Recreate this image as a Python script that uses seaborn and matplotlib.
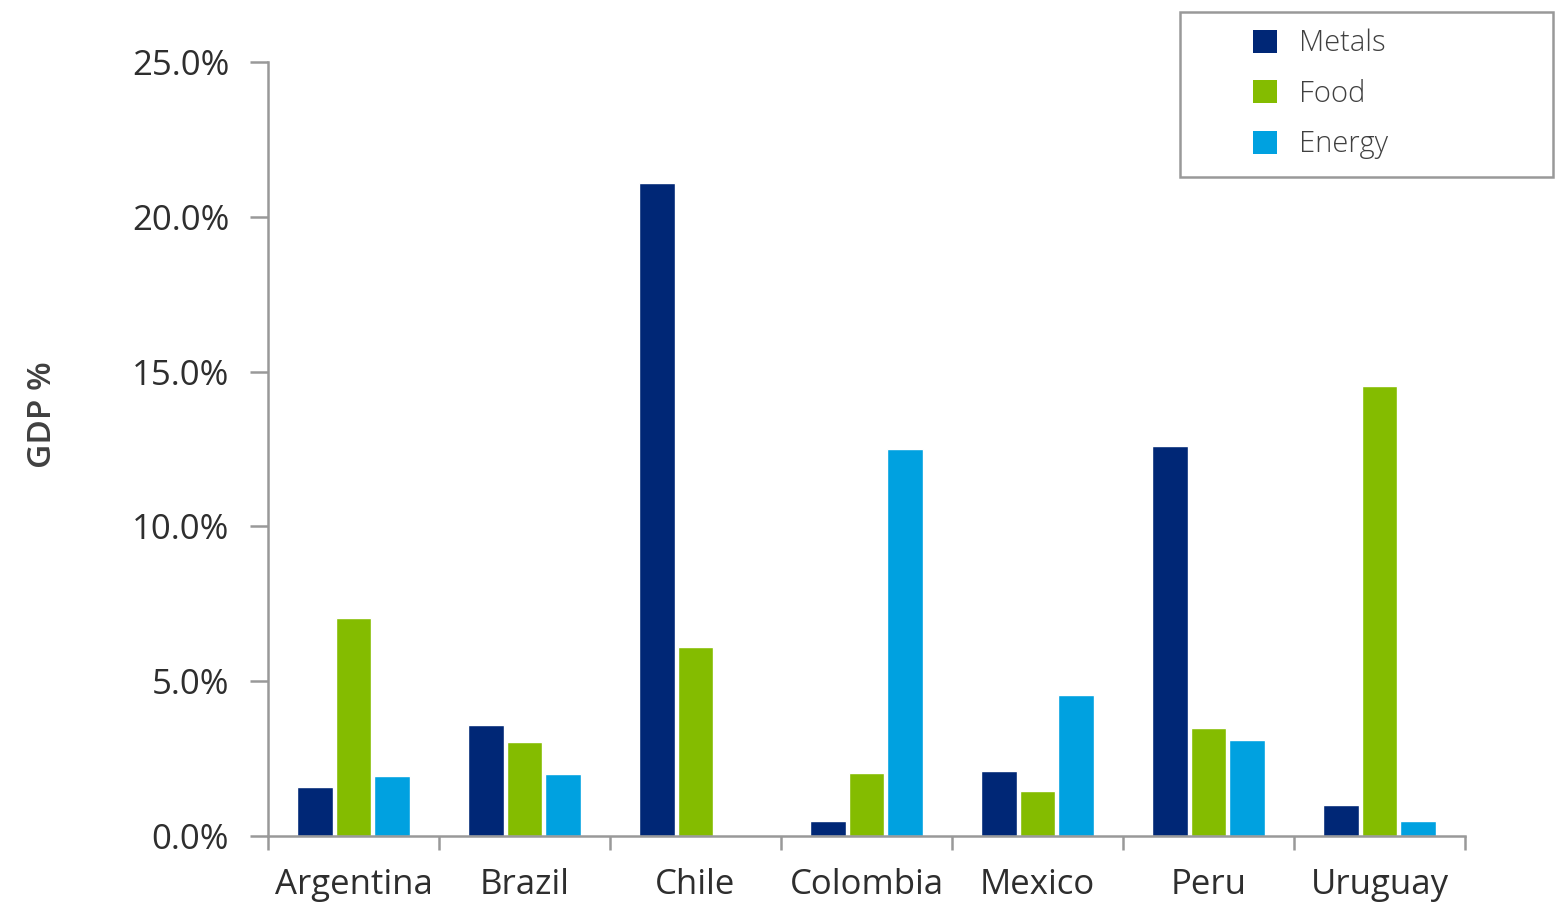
import pandas as pd
import matplotlib
matplotlib.use('Agg')
import matplotlib.pyplot as plt
import seaborn as sns
from matplotlib.ticker import PercentFormatter, FixedLocator, NullFormatter
from matplotlib.patches import Rectangle

# --- chart data (share of GDP, %) ---
countries = ['Argentina', 'Brazil', 'Chile', 'Colombia', 'Mexico', 'Peru', 'Uruguay']
metals = [1.6, 3.6, 21.1, 0.5, 2.1, 12.6, 1.0]
food = [7.05, 3.05, 6.1, 2.05, 1.45, 3.5, 14.55]
energy = [1.95, 2.0, 0.0, 12.5, 4.55, 3.1, 0.5]
series_names = ['Metals', 'Food', 'Energy']
y_ticks = [0, 5, 10, 15, 20, 25]

colors = {'Metals': '#002776', 'Food': '#84bc00', 'Energy': '#00a1e0'}

df = pd.DataFrame({'country': countries, 'Metals': metals, 'Food': food, 'Energy': energy})
long_df = df.melt(id_vars='country', value_vars=series_names, var_name='series', value_name='gdp')

sns.set_style('white')
plt.rcParams['font.family'] = ['Open Sans', 'DejaVu Sans']

fig = plt.figure(figsize=(15.61, 9.05), dpi=100)
ax = fig.add_axes([0.1717, 0.0762, 0.7668, 0.8553])

sns.barplot(data=long_df, x='country', y='gdp', hue='series', order=countries,
            hue_order=series_names, palette=colors, width=0.68, gap=0.08,
            saturation=1, ax=ax, legend=False)

ax.set_ylim(0, 25)
ax.set_xlim(-0.5, len(countries) - 0.5)
ax.yaxis.set_major_locator(FixedLocator(y_ticks))
ax.yaxis.set_major_formatter(PercentFormatter(decimals=1))

# category boundary ticks on x
ax.xaxis.set_minor_locator(FixedLocator([i - 0.5 for i in range(len(countries) + 1)]))
ax.xaxis.set_minor_formatter(NullFormatter())

spine_color = '#999999'
for side in ['top', 'right']:
    ax.spines[side].set_visible(False)
for side in ['left', 'bottom']:
    ax.spines[side].set_color(spine_color)
    ax.spines[side].set_linewidth(1.8)

ax.tick_params(axis='y', which='major', direction='out', length=13, width=1.8,
               color=spine_color, pad=15, labelsize=25, labelcolor='#2e2e2e', left=True)
ax.tick_params(axis='x', which='major', length=0, pad=23, labelsize=25, labelcolor='#2e2e2e')
ax.tick_params(axis='x', which='minor', direction='out', length=10, width=1.8,
               color=spine_color, bottom=True)

ax.set_xlabel('')
ax.set_ylabel('GDP %', fontsize=24, fontweight='semibold', color='#404040')
ax.yaxis.set_label_coords(-0.175, 0.545)

# legend with a separate frame
handles = [Rectangle((0, 0), 1, 1, facecolor=colors[s], edgecolor='none') for s in series_names]
fig.legend(handles, series_names, loc='upper left', bbox_to_anchor=(0.8027, 0.968),
           frameon=False, handlelength=0.82, handleheight=0.82,
           handletextpad=0.75, labelspacing=0.72, borderpad=0, borderaxespad=0,
           labelcolor='#404040', prop={'weight': 'light', 'size': 21})
fig.patches.append(Rectangle((0.756, 0.804), 0.239, 0.183, transform=fig.transFigure,
                             fill=False, edgecolor=spine_color, linewidth=1.8))

fig.savefig('out.png', dpi=100)
